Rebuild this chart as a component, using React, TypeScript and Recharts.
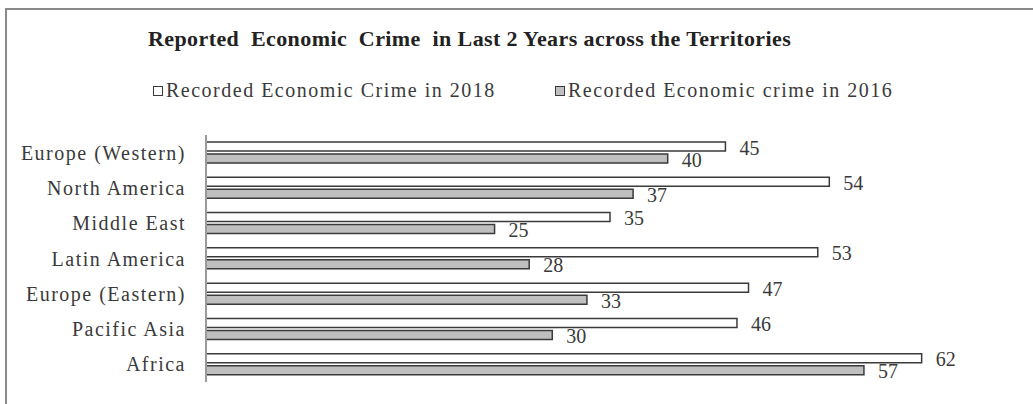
import React from "react";
import { BarChart, Bar, XAxis, YAxis, LabelList } from "recharts";

const regions = [
  "Europe (Western)",
  "North America",
  "Middle East",
  "Latin America",
  "Europe (Eastern)",
  "Pacific Asia",
  "Africa",
];
const crime2018 = [45, 54, 35, 53, 47, 46, 62];
const crime2016 = [40, 37, 25, 28, 33, 30, 57];
const seriesNames = [
  "Recorded Economic Crime in 2018",
  "Recorded Economic crime in 2016",
];
const title = "Reported  Economic  Crime  in Last 2 Years across the Territories";

const serif = "'Liberation Serif', 'Times New Roman', serif";
const ink = "#3a3a3a";

const chartData = regions.map((name, i) => ({
  name,
  y2018: crime2018[i],
  y2016: crime2016[i],
}));

export default function App() {
  return (
    <div
      style={{
        position: "absolute",
        left: 0,
        top: 0,
        width: 1033,
        height: 404,
        background: "#fff",
        fontFamily: serif,
        overflow: "hidden",
      }}
    >
      {/* frame */}
      <div
        style={{
          position: "absolute",
          left: 5,
          top: 8,
          width: 1040,
          height: 410,
          borderTop: "2px solid #8a8a8a",
          borderLeft: "2px solid #8a8a8a",
        }}
      />
      <div
        style={{
          position: "absolute",
          left: 148,
          top: 26,
          fontSize: 22,
          fontWeight: "bold",
          color: "#222",
          whiteSpace: "pre",
          letterSpacing: 0.4,
        }}
      >
        {title}
      </div>
      {/* legend */}
      {seriesNames.map((s, i) => (
        <div
          key={s}
          style={{
            position: "absolute",
            left: i === 0 ? 153 : 555,
            top: 79,
            display: "flex",
            alignItems: "center",
            whiteSpace: "pre",
          }}
        >
          <span
            style={{
              display: "inline-block",
              width: 8,
              height: 8,
              border: "1.5px solid " + ink,
              background: i === 0 ? "#fff" : "#bfbfbf",
              marginRight: 3,
            }}
          />
          <span style={{ fontSize: 20, color: ink, letterSpacing: 1.5 }}>{s}</span>
        </div>
      ))}
      <div style={{ position: "absolute", left: 0, top: 0 }}>
        <BarChart
          layout="vertical"
          width={1033}
          height={404}
          data={chartData}
          margin={{ top: 135, right: 19, bottom: 22, left: 6 }}
          barSize={9}
          barGap={3}
        >
          <XAxis type="number" domain={[0, 70]} hide />
          <YAxis
            type="category"
            dataKey="name"
            width={200}
            tickLine={false}
            tickSize={0}
            tickMargin={20}
            axisLine={{ stroke: "#9a9a9a", strokeWidth: 2 }}
            tick={{ fontFamily: serif, fontSize: 20, fill: ink, letterSpacing: 1.5 }}
          />
          <Bar
            dataKey="y2018"
            name={seriesNames[0]}
            fill="#ffffff"
            stroke={ink}
            strokeWidth={1.5}
            isAnimationActive={false}
          >
            <LabelList
              dataKey="y2018"
              position="right"
              offset={14}
              dy={1}
              style={{ fontFamily: serif, fontSize: 20, fill: ink }}
            />
          </Bar>
          <Bar
            dataKey="y2016"
            name={seriesNames[1]}
            fill="#bfbfbf"
            stroke={ink}
            strokeWidth={1.5}
            isAnimationActive={false}
          >
            <LabelList
              dataKey="y2016"
              position="right"
              offset={14}
              dy={1}
              style={{ fontFamily: serif, fontSize: 20, fill: ink }}
            />
          </Bar>
        </BarChart>
      </div>
    </div>
  );
}
